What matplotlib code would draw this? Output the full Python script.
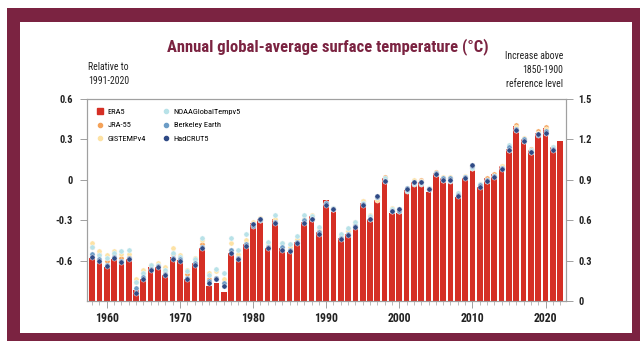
import matplotlib
matplotlib.use('Agg')
import matplotlib.pyplot as plt
from matplotlib import font_manager
from matplotlib.patches import Rectangle
from matplotlib.lines import Line2D

# Annual anomalies (deg C, relative to 1991-2020)
years = list(range(1958, 2023))
era5 = [-0.58, -0.60, -0.645, -0.59, -0.62, -0.59, -0.82, -0.74, -0.65, -0.645,
        -0.71, -0.575, -0.595, -0.74, -0.62, -0.51, -0.79, -0.77, -0.83, -0.54,
        -0.595, -0.48, -0.32, -0.29, -0.505, -0.29, -0.51, -0.535, -0.46, -0.31,
        -0.27, -0.39, -0.15, -0.21, -0.43, -0.40, -0.35, -0.17, -0.29, -0.15,
        0.01, -0.25, -0.25, -0.075, -0.015, -0.015, -0.09, 0.05, 0.01, 0.0,
        -0.125, 0.017, 0.11, -0.05, 0.01, 0.04, 0.10, 0.23, 0.40, 0.305,
        0.22, 0.35, 0.385, 0.24, 0.29]

# other datasets stop at 2021
jra55 = [-0.50, -0.55, -0.60, -0.55, -0.58, -0.57, -0.76, -0.69, -0.63, -0.63,
         -0.68, -0.55, -0.57, -0.70, -0.59, -0.48, -0.74, -0.73, -0.77, -0.52,
         -0.57, -0.47, -0.33, -0.30, -0.48, -0.30, -0.50, -0.52, -0.45, -0.31,
         -0.28, -0.38, -0.17, -0.22, -0.42, -0.38, -0.33, -0.16, -0.28, -0.14,
         0.02, -0.22, -0.23, -0.07, -0.01, 0.0, -0.07, 0.06, 0.01, 0.01,
         -0.11, 0.02, 0.10, -0.04, 0.01, 0.04, 0.10, 0.22, 0.41, 0.30,
         0.23, 0.36, 0.39, 0.24]
gistemp = [-0.47, -0.53, -0.56, -0.53, -0.55, -0.55, -0.74, -0.67, -0.63, -0.62,
           -0.65, -0.51, -0.56, -0.67, -0.58, -0.45, -0.69, -0.68, -0.74, -0.47,
           -0.55, -0.45, -0.31, -0.28, -0.47, -0.29, -0.47, -0.50, -0.44, -0.29,
           -0.26, -0.36, -0.18, -0.21, -0.41, -0.38, -0.31, -0.16, -0.26, -0.15,
           0.00, -0.21, -0.22, -0.07, 0.0, -0.01, -0.06, 0.05, 0.02, 0.02,
           -0.10, 0.03, 0.09, -0.03, 0.0, 0.03, 0.10, 0.23, 0.39, 0.31,
           0.22, 0.35, 0.38, 0.23]
noaa = [-0.50, -0.56, -0.58, -0.54, -0.53, -0.52, -0.76, -0.69, -0.63, -0.63,
        -0.67, -0.54, -0.57, -0.68, -0.59, -0.43, -0.71, -0.66, -0.69, -0.43,
        -0.52, -0.40, -0.33, -0.29, -0.46, -0.26, -0.47, -0.48, -0.42, -0.26,
        -0.27, -0.35, -0.18, -0.21, -0.40, -0.36, -0.31, -0.17, -0.27, -0.13,
        0.01, -0.22, -0.22, -0.08, -0.03, -0.03, -0.06, 0.04, 0.0, -0.01,
        -0.10, 0.02, 0.09, -0.03, -0.01, 0.03, 0.09, 0.26, 0.37, 0.29,
        0.22, 0.34, 0.35, 0.24]
berkeley = [-0.55, -0.59, -0.63, -0.57, -0.60, -0.58, -0.80, -0.72, -0.66, -0.64,
            -0.70, -0.58, -0.59, -0.73, -0.62, -0.50, -0.75, -0.73, -0.77, -0.52,
            -0.58, -0.48, -0.34, -0.30, -0.50, -0.31, -0.50, -0.52, -0.46, -0.30,
            -0.29, -0.39, -0.17, -0.22, -0.43, -0.40, -0.34, -0.18, -0.29, -0.13,
            -0.01, -0.23, -0.23, -0.06, -0.02, -0.02, -0.07, 0.05, 0.01, 0.01,
            -0.11, 0.02, 0.10, -0.04, 0.0, 0.03, 0.09, 0.24, 0.38, 0.30,
            0.21, 0.33, 0.36, 0.23]
hadcrut = [-0.57, -0.60, -0.64, -0.58, -0.61, -0.59, -0.84, -0.74, -0.67, -0.65,
           -0.71, -0.59, -0.60, -0.74, -0.63, -0.51, -0.77, -0.74, -0.79, -0.54,
           -0.59, -0.49, -0.33, -0.29, -0.51, -0.32, -0.52, -0.53, -0.47, -0.32,
           -0.29, -0.40, -0.19, -0.22, -0.44, -0.41, -0.35, -0.19, -0.29, -0.12,
           -0.01, -0.23, -0.22, -0.07, -0.02, -0.02, -0.07, 0.04, 0.0, 0.0,
           -0.12, 0.01, 0.11, -0.05, -0.01, 0.02, 0.08, 0.22, 0.37, 0.29,
           0.21, 0.34, 0.35, 0.22]

# offset between the two reference periods
offset = 0.9

maroon = '#7b2341'
bar_red = '#d52f25'
spine_grey = '#a0a0a0'

# Pick a condensed face if one is around
available = {f.name for f in font_manager.fontManager.ttflist}
family = 'DejaVu Sans'
for name in ['Liberation Sans Narrow', 'Roboto Condensed', 'Open Sans Condensed', 'Liberation Sans']:
    if name in available:
        family = name
        break
matplotlib.rc('font', family=[family, 'DejaVu Sans'])

W, H = 640, 341
fig = plt.figure(figsize=(W / 100, H / 100), dpi=100)
fig.patch.set_facecolor('white')

# Frame
fig.patches.append(Rectangle((7 / W, 0), 1, 1 - 8 / H, transform=fig.transFigure,
                             facecolor=maroon, edgecolor='none', zorder=-2))
fig.patches.append(Rectangle((20 / W, 8 / H), (632 - 20) / W, (333 - 22) / H,
                             transform=fig.transFigure, facecolor='white',
                             edgecolor='none', zorder=-1))

ax = fig.add_axes([87 / W, 1 - 301 / H, (566 - 87) / W, (301 - 99) / H])
ax.set_facecolor('none')

# bars rise from the bottom of the axis up to each value
heights = [v + offset for v in era5]
ax.bar(years, heights, bottom=-offset, width=0.78, color=bar_red,
       edgecolor='none', zorder=2)

other = [
    ('JRA-55', jra55, '#f4a259'),
    ('GISTEMPv4', gistemp, '#fde2a4'),
    ('NOAAGlobalTempv5', noaa, '#b8e2e8'),
    ('Berkeley Earth', berkeley, '#6c9cc6'),
    ('HadCRUT5', hadcrut, '#2f4a85'),
]
for name, vals, col in other:
    ax.scatter(years[:len(vals)], vals, s=14, color=col, edgecolors='white',
               linewidths=0.3, zorder=3)

ax.set_xlim(1957.3, 2022.8)
ax.set_ylim(-offset, 0.6)
ax.set_yticks([-0.6, -0.3, 0, 0.3, 0.6])
ax.set_yticklabels(['-0.6', '-0.3', '0', '0.3', '0.6'])
ax.set_xticks(range(1960, 2021, 10))
ax.set_xticks(years, minor=True)

for s in ax.spines.values():
    s.set_color(spine_grey)
    s.set_linewidth(0.8)
ax.tick_params(axis='y', length=5, width=0.7, color=spine_grey, pad=5,
               labelsize=7.5, labelcolor='#222222')
ax.tick_params(axis='x', which='major', length=5, width=0.7, color=spine_grey,
               pad=3, labelsize=8.5, labelcolor='#222222')
ax.tick_params(axis='x', which='minor', length=3, width=0.5, color=spine_grey)
for t in ax.get_yticklabels() + ax.get_xticklabels():
    t.set_fontweight('bold')

ax2 = ax.twinx()
ax2.set_ylim(0, 0.6 + offset)
ax2.set_yticks([0, 0.3, 0.6, 0.9, 1.2, 1.5])
ax2.set_yticklabels(['0', '0.3', '0.6', '0.9', '1.2', '1.5'])
for s in ax2.spines.values():
    s.set_color(spine_grey)
    s.set_linewidth(0.8)
ax2.tick_params(axis='y', length=5, width=0.7, color=spine_grey, pad=4,
                labelsize=7.5, labelcolor='#222222')
for t in ax2.get_yticklabels():
    t.set_fontweight('bold')

# Legend
handles = [Line2D([], [], marker='s', ls='none', color=bar_red, markersize=5)]
handles += [Line2D([], [], marker='o', ls='none', color=c, markersize=3)
            for _, _, c in other]
labels = ['ERA5'] + [n for n, _, _ in other]
ax.legend(handles, labels, ncol=2, loc='upper left', frameon=False,
          fontsize=6, handlelength=0.8, handletextpad=0.5, columnspacing=2.0,
          labelspacing=0.75, bbox_to_anchor=(0.005, 0.99))

fig.text(328 / W, 1 - 47 / H, 'Annual global-average surface temperature (°C)',
         ha='center', va='center', fontsize=12, fontweight='bold', color=maroon)
fig.text(88 / W, 1 - 74 / H, 'Relative to\n1991-2020', ha='left', va='center',
         fontsize=7, color='#222222', linespacing=1.5)
fig.text(563 / W, 1 - 70 / H, 'Increase above\n1850-1900\nreference level',
         ha='right', va='center', fontsize=7, color='#222222', linespacing=1.5)

fig.savefig('out.png', dpi=100)
